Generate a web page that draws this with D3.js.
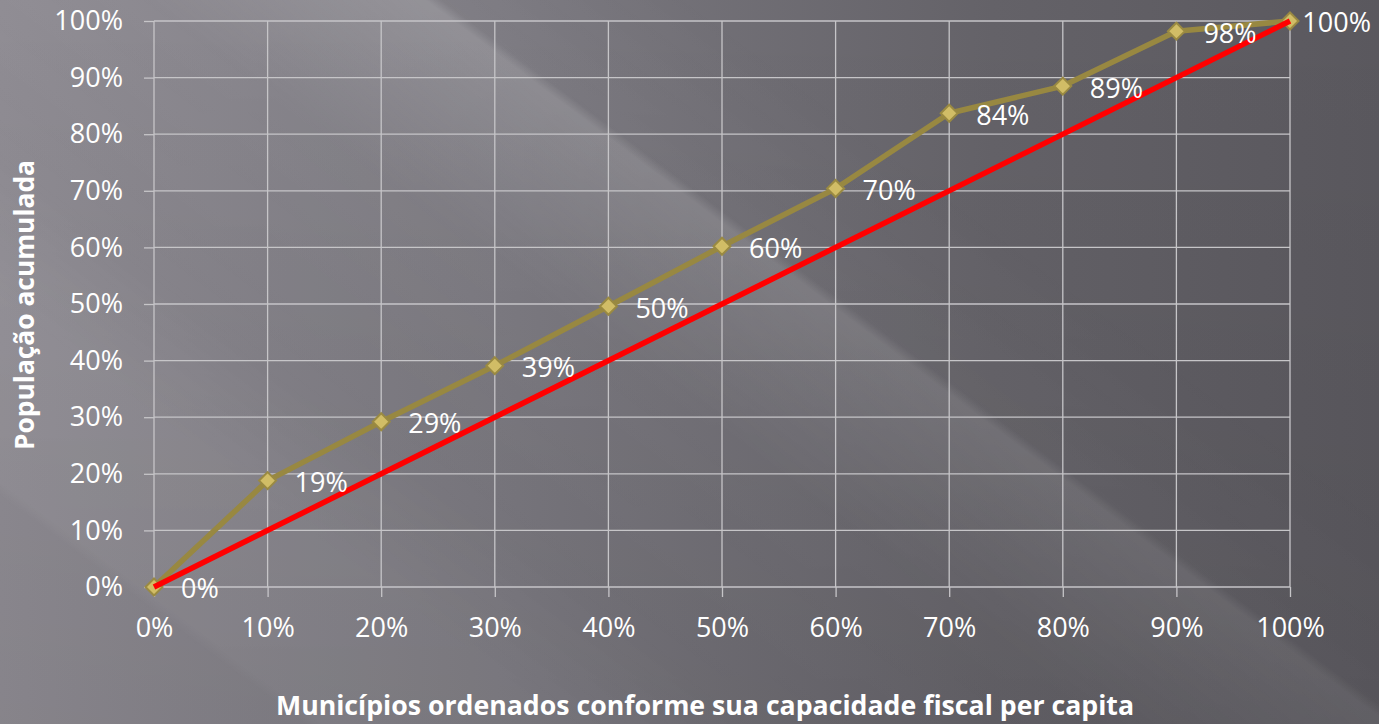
<!DOCTYPE html>
<html>
<head>
<meta charset="utf-8">
<script src="https://cdn.jsdelivr.net/npm/d3@7"></script>
<style>
  html, body { margin: 0; padding: 0; background: #6f6d73; }
  svg { display: block; }
  text { font-family: "Open Sans", sans-serif; fill: #ffffff; }
</style>
</head>
<body>
<div id="chart"></div>
<script>
// data
const municipios = [0, 10, 20, 30, 40, 50, 60, 70, 80, 90, 100]
const populacao = [0, 18.8, 29.2, 39.1, 49.6, 60.2, 70.4, 83.7, 88.5, 98.2, 100]
const igualdade = [0, 100]
const xTicks = [0, 10, 20, 30, 40, 50, 60, 70, 80, 90, 100]
const yTicks = [0, 10, 20, 30, 40, 50, 60, 70, 80, 90, 100]
const xTitle = "Municípios ordenados conforme sua capacidade fiscal per capita"
const yTitle = "População acumulada"

const svgWidth = 1379, svgHeight = 724
const margin = {top: 21, right: 89, bottom: 137, left: 154}
const width = svgWidth - margin.left - margin.right
const height = svgHeight - margin.top - margin.bottom

let svg = d3.select('#chart')
    .append('svg')
    .attr('width', svgWidth)
    .attr('height', svgHeight)

// background: grey gradient, light from the left, with diagonal streaks
let defs = svg.append('defs')
let bg = defs.append('linearGradient')
    .attr('id', 'bg')
    .attr('gradientUnits', 'userSpaceOnUse')
    .attr('x1', 0).attr('y1', 0).attr('x2', svgWidth).attr('y2', 0)
bg.append('stop').attr('offset', 0).attr('stop-color', '#8f8c93')
bg.append('stop').attr('offset', 0.36).attr('stop-color', '#7b7980')
bg.append('stop').attr('offset', 0.72).attr('stop-color', '#646268')
bg.append('stop').attr('offset', 1).attr('stop-color', '#5a585e')

// streak stops along s = x - 1.33y, s from -963 to 1379
let streak = defs.append('linearGradient')
    .attr('id', 'streak')
    .attr('gradientUnits', 'userSpaceOnUse')
    .attr('x1', 0).attr('y1', 724).attr('x2', 845.5).attr('y2', -400.5)
let streakStops = [
    [0.129, 0], [0.138, 0.08], [0.24, 0.08], [0.326, 0],
    [0.475, 0.03], [0.539, 0.11], [0.59, 0.17], [0.593, 0.17],
    [0.6, 0.03], [0.71, 0]
]
streak.selectAll('stop')
    .data(streakStops)
    .join('stop')
    .attr('offset', d => d[0])
    .attr('stop-color', '#ffffff')
    .attr('stop-opacity', d => d[1])

// streak fades toward the bottom
let fade = defs.append('linearGradient')
    .attr('id', 'fade')
    .attr('x1', 0).attr('y1', 0).attr('x2', 0).attr('y2', 1)
fade.append('stop').attr('offset', 0).attr('stop-color', '#fff')
fade.append('stop').attr('offset', 1).attr('stop-color', '#777')
defs.append('mask')
    .attr('id', 'fadeMask')
    .append('rect')
    .attr('width', svgWidth).attr('height', svgHeight)
    .attr('fill', 'url(#fade)')

let shade = defs.append('linearGradient')
    .attr('id', 'shade')
    .attr('x1', 0).attr('y1', 0).attr('x2', 0).attr('y2', 1)
shade.append('stop').attr('offset', 0).attr('stop-color', '#000').attr('stop-opacity', 0)
shade.append('stop').attr('offset', 1).attr('stop-color', '#000').attr('stop-opacity', 0.06)

svg.append('rect').attr('width', svgWidth).attr('height', svgHeight).attr('fill', 'url(#bg)')
svg.append('rect').attr('width', svgWidth).attr('height', svgHeight)
    .attr('fill', 'url(#streak)').attr('mask', 'url(#fadeMask)')
svg.append('rect').attr('width', svgWidth).attr('height', svgHeight).attr('fill', 'url(#shade)')

let chart = svg.append('g')
    .attr("transform", "translate(" + margin.left + "," + margin.top + ")")

let xScale = d3.scaleLinear().domain([0, 100]).range([0, width])
let yScale = d3.scaleLinear().domain([0, 100]).range([height, 0])

const gridColor = '#c6c5c8'

// grid
chart.append('g').selectAll('line')
    .data(yTicks)
    .join('line')
    .attr('x1', 0).attr('x2', width)
    .attr('y1', d => yScale(d)).attr('y2', d => yScale(d))
    .attr('stroke', gridColor)
    .attr('stroke-width', 1.3)

chart.append('g').selectAll('line')
    .data(xTicks)
    .join('line')
    .attr('x1', d => xScale(d)).attr('x2', d => xScale(d))
    .attr('y1', 0).attr('y2', height)
    .attr('stroke', gridColor)
    .attr('stroke-width', 1.3)

// axes
let fmt = d => d + '%'

let xAxis = chart.append('g')
    .attr('transform', `translate(0,${height})`)
    .call(d3.axisBottom(xScale).tickValues(xTicks).tickFormat(fmt).tickSize(10).tickPadding(21))
let yAxis = chart.append('g')
    .call(d3.axisLeft(yScale).tickValues(yTicks).tickFormat(fmt).tickSize(10).tickPadding(21))

for (let ax of [xAxis, yAxis]) {
    ax.select('.domain').remove()
    ax.selectAll('.tick line').attr('stroke', gridColor).attr('stroke-width', 1.3)
    ax.selectAll('.tick text')
        .attr('fill', '#ffffff')
        .style('font-family', '"Open Sans", sans-serif')
        .style('font-size', '27px')
}

// population curve
let line = d3.line()
    .x(d => xScale(d[0]))
    .y(d => yScale(d[1]))

let curve = d3.zip(municipios, populacao)

chart.append('path')
    .datum(curve)
    .attr('fill', 'none')
    .attr('stroke', '#988841')
    .attr('stroke-width', 5.5)
    .attr('stroke-linejoin', 'round')
    .attr('d', line)

chart.selectAll('.marker')
    .data(curve)
    .join('path')
    .attr('class', 'marker')
    .attr('transform', d => `translate(${xScale(d[0])},${yScale(d[1])})`)
    .attr('d', 'M0,-8.5L8.5,0L0,8.5L-8.5,0Z')
    .attr('fill', '#d1bd66')
    .attr('stroke', '#9a8a42')
    .attr('stroke-width', 2)

// equality line
chart.append('path')
    .datum(d3.zip(igualdade, igualdade))
    .attr('fill', 'none')
    .attr('stroke', '#ff0000')
    .attr('stroke-width', 5.5)
    .attr('d', line)

// data labels
chart.selectAll('.dlabel')
    .data(curve)
    .join('text')
    .attr('class', 'dlabel')
    .attr('y', d => yScale(d[1]) + 2)
    .attr('dy', '0.35em')
    .style('font-size', '27px')
    .text(d => Math.round(d[1]) + '%')
    .attr('x', function(d){
        let w = this.getComputedTextLength()
        return Math.min(xScale(d[0]) + 27, svgWidth - margin.left - 8 - w)
    })

// axis titles
svg.append('text')
    .attr('x', 705)
    .attr('y', 715)
    .attr('text-anchor', 'middle')
    .attr('textLength', 858)
    .attr('lengthAdjust', 'spacingAndGlyphs')
    .style('font-size', '26px')
    .style('font-weight', 'bold')
    .text(xTitle)

svg.append('text')
    .attr('transform', 'translate(34,305) rotate(-90)')
    .attr('text-anchor', 'middle')
    .attr('textLength', 290)
    .attr('lengthAdjust', 'spacingAndGlyphs')
    .style('font-size', '26px')
    .style('font-weight', 'bold')
    .text(yTitle)
</script>
</body>
</html>
